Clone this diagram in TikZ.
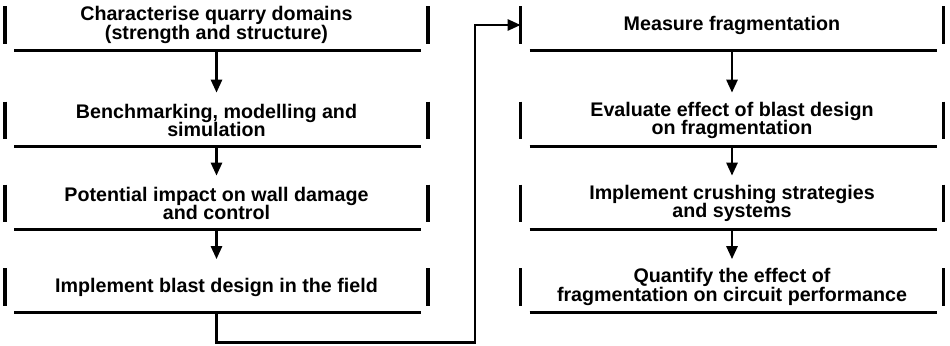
\documentclass[tikz,border=0pt]{standalone}
\usepackage{fontspec}
\setmainfont{Liberation Sans}
\usetikzlibrary{positioning,arrows.meta}
\lineskiplimit=-20pt

\begin{document}
\begin{tikzpicture}[
  >={Triangle[length=0.26cm,width=0.22cm]},
  font=\bfseries\fontsize{11.2}{10.4}\selectfont,
  bar/.style={line width=2pt},
  base/.style={line width=1.6pt},
  stage/.style={minimum width=8.44cm, minimum height=0.74cm, inner sep=0pt, align=center,
    append after command={
      (\tikzlastnode.north west) edge[bar] (\tikzlastnode.south west)
      (\tikzlastnode.north east) edge[bar] (\tikzlastnode.south east)
      ([xshift=0.18cm,yshift=-0.14cm]\tikzlastnode.south west) edge[base] ([xshift=-0.13cm,yshift=-0.14cm]\tikzlastnode.south east)
      ([yshift=-0.14cm]\tikzlastnode.south) coordinate (\tikzlastnode-base)
    }},
  arr/.style={->, line width=1.5pt, shorten >=0.18cm},
  link/.style={->, line width=1.5pt}
]
\useasboundingbox (0,0) rectangle (19,-6.9);

\node[stage] (dom) at (4.33,-0.5) {Characterise quarry domains\\(strength and structure)};
\node[stage] (bench) at (4.33,-2.41) {Benchmarking, modelling and\\simulation};
\node[stage] (wall) at (4.33,-4.07) {Potential impact on wall damage\\and control};
\node[stage] (field) at (4.33,-5.74) {Implement blast design in the field};

\node[stage] (meas) at (14.64,-0.5) {Measure fragmentation};
\node[stage] (eval) at (14.64,-2.41) {Evaluate effect of blast design\\on fragmentation};
\node[stage] (crush) at (14.64,-4.07) {Implement crushing strategies\\and systems};
\node[stage] (circ) at (14.64,-5.74) {Quantify the effect of\\fragmentation on circuit performance};

\coordinate (turn) at (9.5,-6.85);

\draw[arr] (dom-base) -- (bench);
\draw[arr] (bench-base) -- (wall);
\draw[arr] (wall-base) -- (field);
\draw[link] (field-base) |- (turn) |- (meas.west);
\draw[arr] (meas-base) -- (eval);
\draw[arr] (eval-base) -- (crush);
\draw[arr] (crush-base) -- (circ);
\end{tikzpicture}
\end{document}
